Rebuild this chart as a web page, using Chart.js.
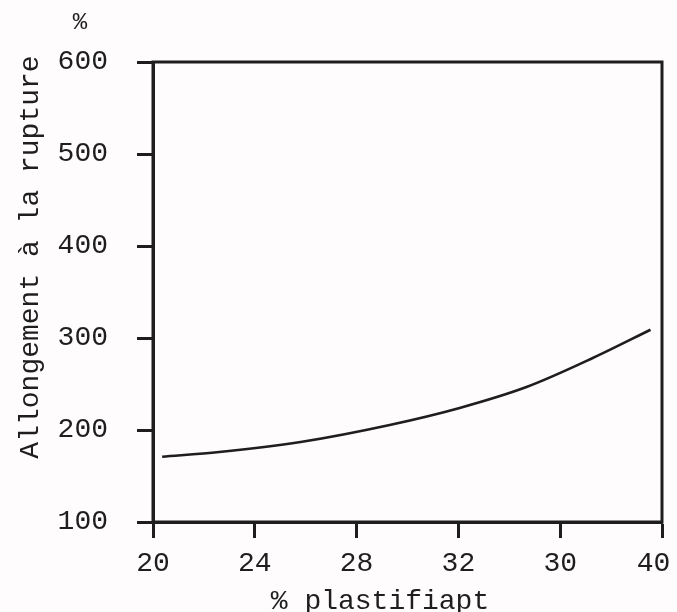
<!DOCTYPE html>
<html>
<head>
<meta charset="utf-8">
<script src="https://cdn.jsdelivr.net/npm/chart.js@4/dist/chart.umd.min.js"></script>
<style>
  html, body { margin: 0; padding: 0; background: #fefcfd; }
  #wrap { width: 677px; height: 612px; position: relative; }
</style>
</head>
<body>
<div id="wrap"><canvas id="c" width="677" height="612"></canvas></div>
<script>
// Plasticiser content (%) and elongation at break (%)
const plastifiant = [20.36, 22.6, 25.8, 29.3, 32.05, 34.7, 37.3, 39.55];
const allongement = [171, 176, 187, 205.5, 224, 247, 278.5, 309];

// Axis labels as printed
const xTickLabels = ['20', '24', '28', '32', '30', '40'];
const yTickValues = [100, 200, 300, 400, 500, 600];
const yTitle = 'Allongement à la rupture';
const yUnit = '%';
const xTitle = '% plastifiapt';

const ink = '#1e1e1e';
const mono = '"Liberation Mono", "DejaVu Sans Mono", monospace';

// Frame around the plot area plus the hand-placed axis titles
const framePlugin = {
  id: 'frame',
  afterDraw(chart) {
    const { ctx, chartArea: a } = chart;
    ctx.save();
    ctx.strokeStyle = ink;
    ctx.lineWidth = 3;
    ctx.strokeRect(a.left, a.top, a.right - a.left, a.bottom - a.top);

    ctx.fillStyle = ink;
    ctx.font = '28px ' + mono;
    ctx.textAlign = 'center';
    ctx.textBaseline = 'middle';
    ctx.fillText(xTitle, 380, 602);

    ctx.save();
    ctx.translate(31, 257);
    ctx.rotate(-Math.PI / 2);
    ctx.fillText(yTitle, 0, 0);
    ctx.restore();

    ctx.font = '24px ' + mono;
    ctx.fillText(yUnit, 80, 23);
    ctx.restore();
  }
};

new Chart(document.getElementById('c'), {
  type: 'line',
  data: {
    datasets: [{
      data: plastifiant.map((x, i) => ({ x, y: allongement[i] })),
      borderColor: ink,
      borderWidth: 2.6,
      pointRadius: 0,
      fill: false,
      cubicInterpolationMode: 'monotone'
    }]
  },
  options: {
    responsive: false,
    animation: false,
    layout: { padding: { top: 62, right: 15, left: 0, bottom: 0 } },
    plugins: { legend: { display: false }, tooltip: { enabled: false } },
    scales: {
      x: {
        type: 'linear',
        min: 20,
        max: 40,
        afterBuildTicks(scale) {
          scale.ticks = [20, 24, 28, 32, 36, 40].map(v => ({ value: v }));
        },
        afterFit(scale) {
          scale.height = 90;
          scale.paddingLeft = 0;
          scale.paddingRight = 0;
        },
        grid: {
          drawOnChartArea: false,
          drawTicks: true,
          tickLength: 16,
          tickWidth: 3,
          tickColor: ink
        },
        border: { display: true, color: ink, width: 3 },
        ticks: {
          color: ink,
          font: { family: mono, size: 28 },
          padding: 9,
          maxRotation: 0,
          autoSkip: false,
          // the last label sits just inside the right edge of the page
          callback: (v, i) => i === xTickLabels.length - 1 ? xTickLabels[i] + ' ' : xTickLabels[i]
        }
      },
      y: {
        type: 'linear',
        min: 100,
        max: 600,
        afterBuildTicks(scale) {
          scale.ticks = yTickValues.map(v => ({ value: v }));
        },
        afterFit(scale) {
          scale.width = 153;
          scale.paddingTop = 0;
          scale.paddingBottom = 0;
        },
        grid: {
          drawOnChartArea: false,
          drawTicks: true,
          tickLength: 16,
          tickWidth: 3,
          tickColor: ink
        },
        border: { display: true, color: ink, width: 3 },
        ticks: {
          color: ink,
          font: { family: mono, size: 28 },
          padding: 29,
          autoSkip: false,
          callback: v => String(v)
        }
      }
    }
  },
  plugins: [framePlugin]
});
</script>
</body>
</html>
